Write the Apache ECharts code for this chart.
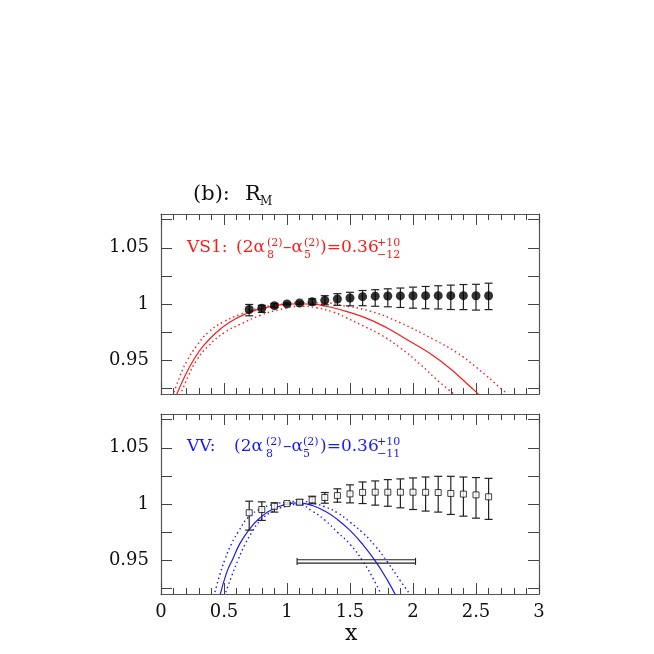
<!DOCTYPE html>
<html>
<head>
<meta charset="utf-8">
<title>R_M</title>
<script src="https://cdn.jsdelivr.net/npm/echarts@6/dist/echarts.min.js"></script>
<style>
  html, body { margin: 0; padding: 0; background: #fff; }
  #chart { width: 654px; height: 654px; }
</style>
</head>
<body>
<div id="chart"></div>
<script>
// x positions of the lattice points (both panels)
var xPts = [0.7, 0.8, 0.9, 1.0, 1.1, 1.2, 1.3, 1.4, 1.5, 1.6, 1.7, 1.8, 1.9, 2.0, 2.1, 2.2, 2.3, 2.4, 2.5, 2.6]

// top panel: VS1 points (filled circles)
var vs1Val = [0.9951, 0.9962, 0.9985, 1.0001, 1.0009, 1.0019, 1.0033, 1.0044, 1.0053, 1.0065, 1.0070, 1.0071, 1.0072, 1.0073, 1.0074, 1.0074, 1.0074, 1.0074, 1.0073, 1.0073]
var vs1Lo  = [0.9895, 0.9925, 0.9968, 0.9992, 0.9999, 0.9993, 0.9993, 0.9988, 0.9984, 0.9985, 0.9980, 0.9975, 0.9969, 0.9963, 0.9958, 0.9956, 0.9951, 0.9950, 0.9946, 0.9950]
var vs1Hi  = [0.9996, 0.9988, 1.0003, 1.0010, 1.0019, 1.0046, 1.0074, 1.0092, 1.0104, 1.0120, 1.0127, 1.0135, 1.0142, 1.0150, 1.0156, 1.0162, 1.0168, 1.0173, 1.0175, 1.0185]

// bottom panel: VV points (open squares)
var vvVal = [0.9922, 0.9951, 0.9980, 1.0004, 1.0016, 1.0037, 1.0058, 1.0075, 1.0090, 1.0103, 1.0105, 1.0105, 1.0105, 1.0105, 1.0104, 1.0102, 1.0094, 1.0088, 1.0081, 1.0064]
var vvLo  = [0.9768, 0.9854, 0.9928, 0.9996, 0.9993, 1.0002, 1.0007, 1.0016, 1.0010, 1.0004, 0.9990, 0.9980, 0.9966, 0.9951, 0.9937, 0.9928, 0.9907, 0.9892, 0.9874, 0.9863]
var vvHi  = [1.0025, 1.0019, 1.0011, 1.0012, 1.0040, 1.0069, 1.0102, 1.0135, 1.0170, 1.0196, 1.0205, 1.0217, 1.0223, 1.0232, 1.0240, 1.0246, 1.0246, 1.0240, 1.0235, 1.0228]

// fit curves (red = VS1, blue = VV)
var vs1FitX = [0.10, 0.19, 0.257, 0.336, 0.442, 0.548, 0.68, 0.786, 0.918, 1.05, 1.18, 1.31, 1.42, 1.685, 1.95, 2.214, 2.505, 2.55]
var vs1Fit  = [0.913, 0.936, 0.950, 0.9627, 0.975, 0.984, 0.9916, 0.9957, 0.9987, 1.000, 1.000, 0.998, 0.9951, 0.9848, 0.9684, 0.9497, 0.9214, 0.916]
var vs1UpX  = [0.08, 0.151, 0.209, 0.283, 0.376, 0.495, 0.627, 0.786, 0.944, 1.129, 1.315, 1.42, 1.659, 1.897, 2.161, 2.347, 2.505, 2.704, 2.75]
var vs1Up   = [0.914, 0.936, 0.950, 0.9627, 0.975, 0.984, 0.9907, 0.9966, 0.9996, 1.001, 1.001, 0.999, 0.9937, 0.9834, 0.9686, 0.9568, 0.9435, 0.9243, 0.920]
var vs1DnX  = [0.14, 0.217, 0.283, 0.376, 0.508, 0.627, 0.786, 0.944, 1.103, 1.236, 1.368, 1.47, 1.579, 1.738, 1.897, 2.056, 2.214, 2.36]
var vs1Dn   = [0.915, 0.936, 0.950, 0.9627, 0.975, 0.9819, 0.9898, 0.9951, 0.998, 0.9966, 0.9928, 0.9878, 0.9819, 0.973, 0.9612, 0.9465, 0.9302, 0.917]

var vvFitX = [0.46, 0.521, 0.569, 0.627, 0.701, 0.786, 0.891, 0.998, 1.09, 1.2, 1.3, 1.4, 1.5, 1.6, 1.7, 1.8, 1.88]
var vvFit  = [0.915, 0.939, 0.9509, 0.965, 0.9774, 0.9878, 0.9957, 0.9998, 1.001, 0.9987, 0.9937, 0.9863, 0.9765, 0.9642, 0.9494, 0.9317, 0.915]
var vvUpX  = [0.41, 0.468, 0.508, 0.561, 0.614, 0.69, 0.791, 0.891, 0.992, 1.09, 1.2, 1.3, 1.4, 1.5, 1.6, 1.7, 1.8, 1.9, 2.0]
var vvUp   = [0.914, 0.9376, 0.9509, 0.965, 0.9754, 0.9878, 0.9957, 0.9996, 1.0016, 1.0024, 1.001, 0.9975, 0.9922, 0.9839, 0.9745, 0.9627, 0.948, 0.9317, 0.916]
var vvDnX  = [0.49, 0.561, 0.614, 0.667, 0.72, 0.791, 0.891, 0.992, 1.09, 1.2, 1.3, 1.4, 1.5, 1.6, 1.7, 1.76]
var vvDn   = [0.914, 0.936, 0.9509, 0.9642, 0.9745, 0.9857, 0.9937, 0.998, 0.9997, 0.9937, 0.9857, 0.975, 0.9642, 0.9494, 0.9303, 0.916]

// horizontal bar in the lower panel: [xStart, xEnd, y]
var hBar = [1.08, 2.02, 0.949]

// ticks and labels
var yTicks = [0.925, 0.95, 0.975, 1, 1.025, 1.05, 1.075]
var yLabels = [0.95, 1, 1.05]

var FONT = '"DejaVu Serif", "Liberation Serif", serif'
var RED = '#ff1a1a'
var BLUE = '#1a1aff'

function pairs (xs, ys) {
  return xs.map(function (x, i) { return [x, ys[i]] })
}

function xAx (grid, pos, labels) {
  return {
    type: 'value', gridIndex: grid, position: pos, min: 0, max: 3, interval: 0.5,
    axisLine: { show: true, onZero: false, lineStyle: { color: '#555', width: 1.2 } },
    axisTick: { show: true, inside: true, length: 11, lineStyle: { color: '#444', width: 1 } },
    minorTick: { show: true, splitNumber: 5, length: 6, lineStyle: { color: '#444', width: 1 } },
    splitLine: { show: false },
    axisLabel: { show: labels, color: '#111', fontFamily: FONT, fontSize: 18, margin: 9 }
  }
}

function yAx (grid, pos, labels) {
  return {
    type: 'value', gridIndex: grid, position: pos, min: 0.92, max: 1.08,
    axisLine: { show: true, onZero: false, lineStyle: { color: '#555', width: 1.2 } },
    axisTick: { show: true, inside: true, length: 11, customValues: yTicks, lineStyle: { color: '#444', width: 1 } },
    splitLine: { show: false },
    axisLabel: {
      show: labels, customValues: yLabels, color: '#111', fontFamily: FONT, fontSize: 18, margin: 12,
      formatter: function (v) { return String(Math.round(v * 1000) / 1000) }
    }
  }
}

function curve (xi, yi, xs, ys, color, dotted) {
  return {
    type: 'line', xAxisIndex: xi, yAxisIndex: yi, data: pairs(xs, ys),
    showSymbol: false, smooth: 0.5, clip: true, z: 1,
    lineStyle: { color: color, width: dotted ? 1.4 : 1.2, type: dotted ? [1.5, 3] : 'solid' }
  }
}

function errBars (xi, yi, lo, hi) {
  return {
    type: 'custom', xAxisIndex: xi, yAxisIndex: yi, z: 3,
    data: xPts.map(function (x, i) { return [x, lo[i], hi[i]] }),
    encode: { x: 0, y: [1, 2] },
    renderItem: function (params, api) {
      var a = api.coord([api.value(0), api.value(1)])
      var b = api.coord([api.value(0), api.value(2)])
      var w = 4
      var st = { stroke: '#222', lineWidth: 1.2 }
      return {
        type: 'group', children: [
          { type: 'line', shape: { x1: a[0], y1: a[1], x2: b[0], y2: b[1] }, style: st },
          { type: 'line', shape: { x1: a[0] - w, y1: a[1], x2: a[0] + w, y2: a[1] }, style: st },
          { type: 'line', shape: { x1: b[0] - w, y1: b[1], x2: b[0] + w, y2: b[1] }, style: st }
        ]
      }
    }
  }
}

// text pieces for the labels: [text, x, y(middle), size]
function pieces (list, color) {
  return list.map(function (p) {
    return {
      type: 'text', x: p[1], y: p[2], silent: true,
      style: { text: p[0], fill: color, font: p[3] + 'px ' + FONT, align: 'left', verticalAlign: 'middle' }
    }
  })
}

var redLabel = [
  ['VS1:', 187, 248, 17], ['(2α', 236, 248, 17], ['8', 267, 255, 11], ['(2)', 267, 243, 11],
  ['–α', 283, 248, 17], ['5', 304, 255, 11], ['(2)', 304, 243, 11],
  [')=0.36', 320, 248, 17], ['+10', 377, 243, 11], ['−12', 377, 255, 11]
]
var blueLabel = [
  ['VV:', 187, 447, 17], ['(2α', 234, 447, 17], ['8', 266, 454, 11], ['(2)', 266, 442, 11],
  ['–α', 283, 447, 17], ['5', 303, 454, 11], ['(2)', 303, 442, 11],
  [')=0.36', 320, 447, 17], ['+10', 377, 442, 11], ['−11', 377, 454, 11]
]
var titleLabel = [['(b):', 193, 195, 21], ['R', 245, 195, 21], ['M', 260, 202, 12]]

var chart = echarts.init(document.getElementById('chart'))
var option = {
  backgroundColor: '#fff',
  animation: false,
  grid: [
    { left: 161, top: 214, width: 378, height: 180 },
    { left: 161, top: 414, width: 378, height: 180 }
  ],
  xAxis: [xAx(0, 'bottom', false), xAx(0, 'top', false), xAx(1, 'bottom', true), xAx(1, 'top', false)],
  yAxis: [yAx(0, 'left', true), yAx(0, 'right', false), yAx(1, 'left', true), yAx(1, 'right', false)],
  graphic: pieces(titleLabel, '#111')
    .concat(pieces(redLabel, RED))
    .concat(pieces(blueLabel, BLUE))
    .concat(pieces([['x', 345, 634, 22]], '#111')),
  series: [
    curve(0, 0, vs1FitX, vs1Fit, RED, false),
    curve(0, 0, vs1UpX, vs1Up, RED, true),
    curve(0, 0, vs1DnX, vs1Dn, RED, true),
    errBars(0, 0, vs1Lo, vs1Hi),
    {
      type: 'scatter', xAxisIndex: 0, yAxisIndex: 0, z: 4, data: pairs(xPts, vs1Val),
      symbol: 'circle', symbolSize: 9, itemStyle: { color: '#000' }
    },
    curve(2, 2, vvFitX, vvFit, BLUE, false),
    curve(2, 2, vvUpX, vvUp, BLUE, true),
    curve(2, 2, vvDnX, vvDn, BLUE, true),
    errBars(2, 2, vvLo, vvHi),
    {
      type: 'scatter', xAxisIndex: 2, yAxisIndex: 2, z: 4, data: pairs(xPts, vvVal),
      symbol: 'rect', symbolSize: 6,
      itemStyle: { color: '#fff', borderColor: '#111', borderWidth: 1 }
    },
    {
      // double horizontal bar with end caps
      type: 'custom', xAxisIndex: 2, yAxisIndex: 2, z: 3,
      data: [hBar], encode: { x: [0, 1], y: 2 },
      renderItem: function (params, api) {
        var l = api.coord([api.value(0), api.value(2)])
        var r = api.coord([api.value(1), api.value(2)])
        var st = { stroke: '#222', lineWidth: 1.1 }
        return {
          type: 'group', children: [
            { type: 'line', shape: { x1: l[0], y1: l[1] - 1.7, x2: r[0], y2: r[1] - 1.7 }, style: st },
            { type: 'line', shape: { x1: l[0], y1: l[1] + 1.7, x2: r[0], y2: r[1] + 1.7 }, style: st },
            { type: 'line', shape: { x1: l[0], y1: l[1] - 3.5, x2: l[0], y2: l[1] + 3.5 }, style: st },
            { type: 'line', shape: { x1: r[0], y1: r[1] - 3.5, x2: r[0], y2: r[1] + 3.5 }, style: st }
          ]
        }
      }
    }
  ]
}
chart.setOption(option)
</script>
</body>
</html>
